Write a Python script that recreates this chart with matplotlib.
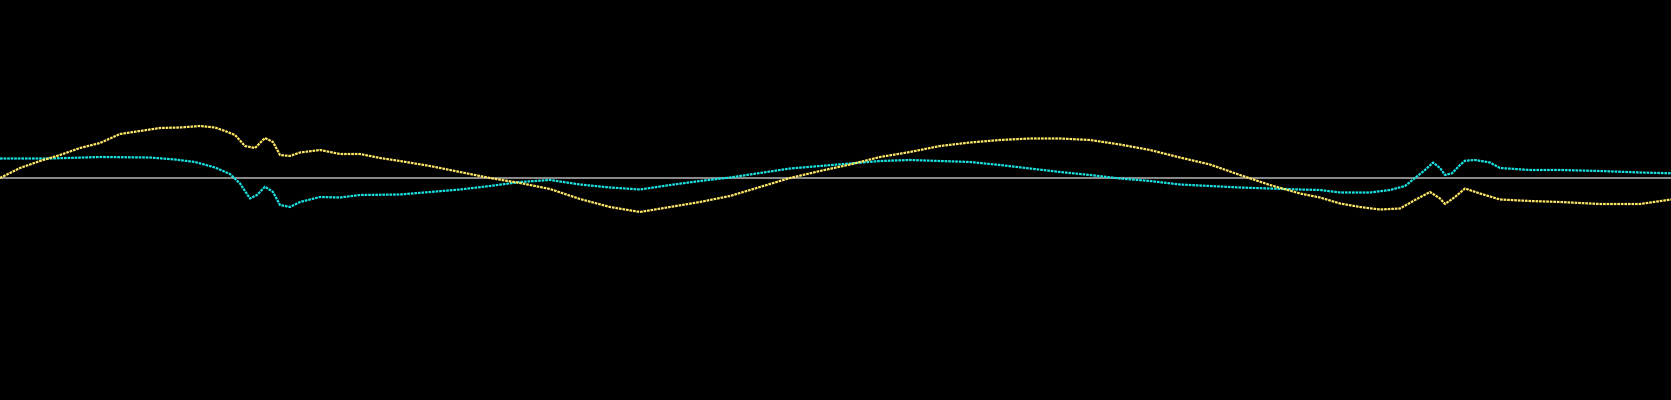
import matplotlib
matplotlib.use("Agg")
import matplotlib.pyplot as plt
import numpy as np

# sample positions and trace levels (offset from the centre line)
yellow_x = [0, 20, 40, 60, 80, 100, 120, 140, 160, 180, 200, 215, 225, 235, 245, 255,
            265, 273, 280, 290, 300, 320, 340, 360, 380, 400, 430, 460, 490, 520, 550,
            580, 610, 640, 670, 700, 730, 760, 790, 820, 850, 880, 910, 940, 970, 1000,
            1030, 1060, 1090, 1120, 1150, 1180, 1210, 1240, 1270, 1300, 1320, 1340, 1360,
            1380, 1400, 1415, 1430, 1440, 1445, 1455, 1465, 1480, 1500, 1530, 1560, 1600,
            1640, 1671]
yellow_y = [0, 10, 17, 23, 30, 35, 44, 47, 50, 50.5, 52, 50.5, 47, 43, 32, 30,
            40, 36, 23, 22, 25.5, 28, 24, 24, 20, 17, 12, 6, 0, -5, -11,
            -21, -29, -34, -29, -24, -18, -9, 0, 7, 13.5, 21, 26, 32, 35.5, 38,
            39.5, 39.5, 38, 33.5, 28, 20.5, 13.5, 3, -7, -15.5, -19.5, -25.5, -29,
            -31.5, -30.5, -22, -14, -20.5, -26, -19, -10.5, -15.5, -21.5, -23, -24, -26,
            -26, -21.5]

cyan_x = [0, 50, 100, 150, 175, 195, 215, 230, 240, 250, 257, 265, 273, 280, 290, 300,
          320, 340, 360, 400, 430, 460, 490, 520, 550, 580, 610, 640, 670, 700, 730,
          760, 790, 820, 850, 880, 910, 940, 970, 1000, 1030, 1060, 1090, 1120, 1150,
          1180, 1210, 1240, 1270, 1300, 1320, 1340, 1370, 1390, 1405, 1415, 1425, 1433,
          1440, 1445, 1452, 1460, 1465, 1475, 1490, 1500, 1530, 1560, 1600, 1640, 1671]
cyan_y = [19.5, 19.5, 21, 20.5, 18.5, 16, 10.5, 4, -5.5, -20.5, -17, -8.7, -14, -27, -29, -24,
          -19, -19.5, -17, -16.5, -14, -11.5, -8, -4, -2, -6.5, -9.5, -11.5, -7, -3, 0.5,
          5, 9.5, 12, 14.5, 17, 18, 17, 16, 13, 9.5, 6, 3, -0.5, -3,
          -6.5, -8, -9.5, -10.5, -11.5, -12, -14.5, -14.5, -12, -8, 0, 8, 15.5,
          10, 3, 4.7, 13, 17.3, 18, 15.5, 10, 8, 8, 7, 5.5, 4.7]

fig = plt.figure(figsize=(16.71, 4.0), dpi=100, facecolor="black")
ax = fig.add_axes([0, 0, 1, 1], facecolor="black")

ax.axhline(0, color="#8c8c8c", lw=1.4, zorder=1)
ax.plot(yellow_x, yellow_y, color="#ffe866", lw=1.6, ls=(0, (1.2, 0.4)), zorder=3)
ax.plot(cyan_x, cyan_y, color="#19e3e3", lw=1.6, ls=(0, (1.2, 0.4)), zorder=2)

ax.set_xlim(0, 1671)
ax.set_ylim(-222, 178)
ax.axis("off")

fig.savefig("out.png", dpi=100, facecolor="black")
